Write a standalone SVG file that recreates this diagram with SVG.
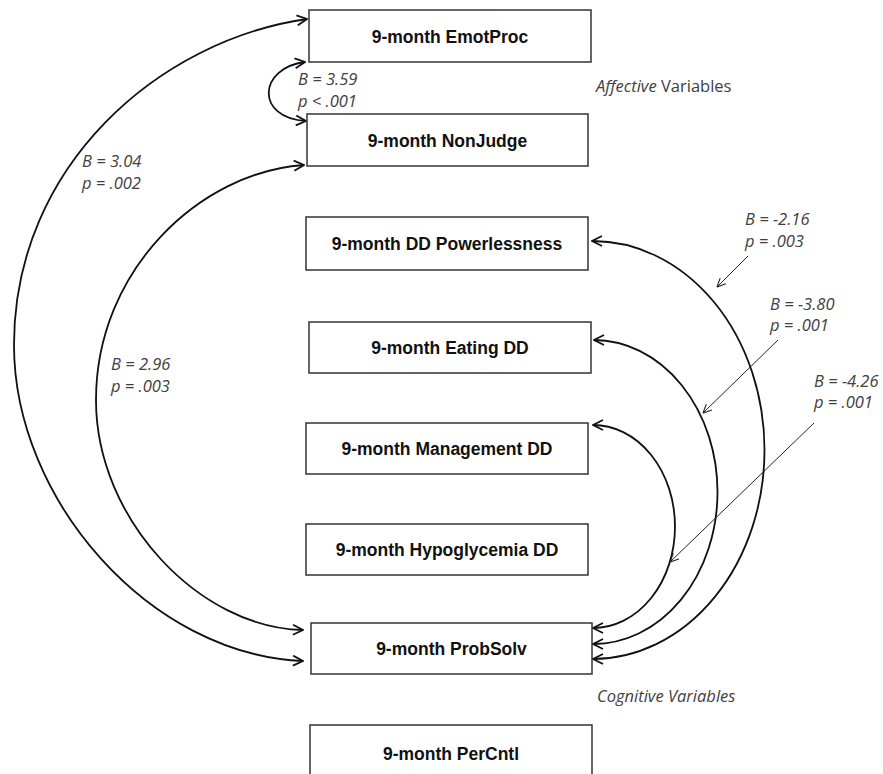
<svg xmlns="http://www.w3.org/2000/svg" width="883" height="774" viewBox="0 0 883 774">
<style>
.box rect{fill:#fff;stroke:#333;stroke-width:1.5}
.box text{font-family:"Liberation Sans",Arial,sans-serif;font-weight:bold;font-size:17.5px;fill:#111;text-anchor:middle}
.arc{fill:none;stroke:#111;stroke-width:1.8}
.ptr{fill:none;stroke:#222;stroke-width:1}
.lbl{font-family:"Open Sans","Liberation Sans",sans-serif;font-style:italic;font-size:16.5px;fill:#404040}
.cat{font-family:"Open Sans","Liberation Sans",sans-serif;font-size:16.5px;fill:#404040}
</style>
<defs>
<marker id="ah" viewBox="0 0 12 12" refX="11" refY="6" markerWidth="12" markerHeight="12" markerUnits="userSpaceOnUse" orient="auto-start-reverse">
<path d="M1,1 L11,6 L1,11" fill="none" stroke="#111" stroke-width="1.8"/>
</marker>
<marker id="sh" viewBox="0 0 10 10" refX="9.5" refY="5" markerWidth="10" markerHeight="10" markerUnits="userSpaceOnUse" orient="auto">
<path d="M1,1 L9.5,5 L1,9" fill="none" stroke="#222" stroke-width="1.1"/>
</marker>
</defs>

<g id="connectors">
<path class="arc" d="M307 19 C160 40, 14 165, 14 345 C14 500, 150 655, 303 661" marker-start="url(#ah)" marker-end="url(#ah)"/>
<path class="arc" d="M304 165 C200 172, 96 270, 96 400 C96 520, 200 628, 303 630" marker-start="url(#ah)" marker-end="url(#ah)"/>
<path class="arc" d="M305 62 C258 68, 255 118, 306 121" marker-start="url(#ah)" marker-end="url(#ah)"/>
<path class="arc" d="M592 241 A172 209 0 0 1 593 659" marker-start="url(#ah)" marker-end="url(#ah)"/>
<path class="arc" d="M594 340 A124 152 0 0 1 593 644" marker-start="url(#ah)" marker-end="url(#ah)"/>
<path class="arc" d="M593 425 A82 101.5 0 0 1 593 628" marker-start="url(#ah)" marker-end="url(#ah)"/>
<path class="ptr" d="M748 256 L717 287" marker-end="url(#sh)"/>
<path class="ptr" d="M778 340 L703 413" marker-end="url(#sh)"/>
<path class="ptr" d="M814 423 L670 562" marker-end="url(#sh)"/>
</g>

<g id="emotproc" class="box"><rect x="309" y="10" width="282" height="52"/><text x="450" y="43">9-month EmotProc</text></g>
<g id="nonjudge" class="box"><rect x="307" y="114" width="281" height="52"/><text x="447.5" y="146.5">9-month NonJudge</text></g>
<g id="powerlessness" class="box"><rect x="306" y="217" width="282" height="53"/><text x="447" y="250">9-month DD Powerlessness</text></g>
<g id="eating" class="box"><rect x="309" y="322" width="282" height="51"/><text x="450" y="354">9-month Eating DD</text></g>
<g id="management" class="box"><rect x="306" y="423" width="282" height="51"/><text x="447" y="455">9-month Management DD</text></g>
<g id="hypoglycemia" class="box"><rect x="306" y="524" width="282" height="51"/><text x="447" y="556">9-month Hypoglycemia DD</text></g>
<g id="probsolv" class="box"><rect x="311" y="623" width="281" height="51"/><text x="451.5" y="655">9-month ProbSolv</text></g>
<g id="percntl" class="box"><rect x="310" y="725" width="282" height="60"/><text x="451" y="760">9-month PerCntl</text></g>

<g id="labels">
<text class="lbl" x="298" y="85">B = 3.59</text>
<text class="lbl" x="298" y="107">p &lt; .001</text>
<text class="lbl" x="82" y="167">B = 3.04</text>
<text class="lbl" x="82" y="189">p = .002</text>
<text class="lbl" x="111" y="370">B = 2.96</text>
<text class="lbl" x="111" y="392">p = .003</text>
<text class="lbl" x="745" y="225">B = -2.16</text>
<text class="lbl" x="745" y="247">p = .003</text>
<text class="lbl" x="770" y="310">B = -3.80</text>
<text class="lbl" x="770" y="331">p = .001</text>
<text class="lbl" x="814" y="387">B = -4.26</text>
<text class="lbl" x="814" y="408">p = .001</text>
<text class="cat" x="596" y="92"><tspan font-style="italic">Affective</tspan> Variables</text>
<text class="lbl" x="597" y="702">Cognitive Variables</text>
</g>
</svg>
